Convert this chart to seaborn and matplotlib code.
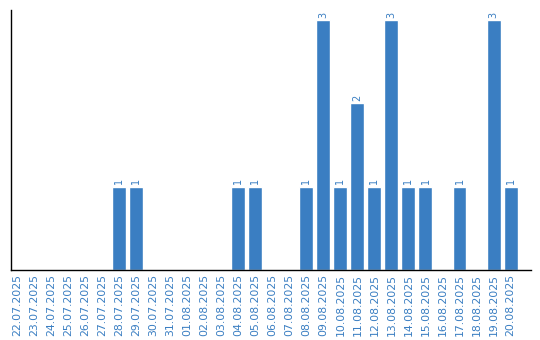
import matplotlib
matplotlib.use("Agg")
import matplotlib.pyplot as plt
import seaborn as sns
import pandas as pd

dates = ["22.07.2025", "23.07.2025", "24.07.2025", "25.07.2025", "26.07.2025",
         "27.07.2025", "28.07.2025", "29.07.2025", "30.07.2025", "31.07.2025",
         "01.08.2025", "02.08.2025", "03.08.2025", "04.08.2025", "05.08.2025",
         "06.08.2025", "07.08.2025", "08.08.2025", "09.08.2025", "10.08.2025",
         "11.08.2025", "12.08.2025", "13.08.2025", "14.08.2025", "15.08.2025",
         "16.08.2025", "17.08.2025", "18.08.2025", "19.08.2025", "20.08.2025"]
counts = [0, 0, 0, 0, 0, 0, 1, 1, 0, 0,
          0, 0, 0, 1, 1, 0, 0, 1, 3, 1,
          2, 1, 3, 1, 1, 0, 1, 0, 3, 1]

BLUE = "#3a7ec2"

sns.set_style("white")
plt.rcParams['font.family'] = ['DejaVu Sans']

df = pd.DataFrame({"date": dates, "count": counts})

fig = plt.figure(figsize=(5.4, 3.4), dpi=100)
ax = fig.add_axes([11/540, 70/340, 520/540, 260/340])
sns.barplot(data=df, x="date", y="count", color=BLUE, saturation=1, width=0.82, ax=ax)

for i, v in enumerate(counts):
    if v > 0:
        ax.text(i, v + 0.03, str(v), rotation=90, ha="center", va="bottom",
                color=BLUE, fontsize=7)

ax.set_xlim(-0.35, 30.2)
ax.set_ylim(0, 3.12)
ax.set_xlabel("")
ax.set_ylabel("")
ax.set_yticks([])
ax.tick_params(axis="x", labelrotation=90, colors=BLUE, labelsize=7.8, length=0, pad=3)
for s in ["top", "right"]:
    ax.spines[s].set_visible(False)
for s in ["left", "bottom"]:
    ax.spines[s].set_color("black")
    ax.spines[s].set_linewidth(1)

fig.savefig("out.png", dpi=100)
